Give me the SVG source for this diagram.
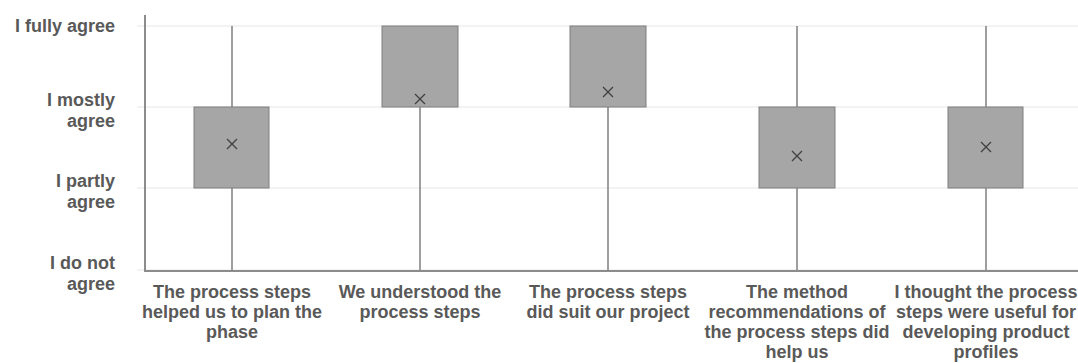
<svg xmlns="http://www.w3.org/2000/svg" width="1078" height="363" viewBox="0 0 1078 363">
  <style>
    .lbl { font-family: "Liberation Sans", Arial, sans-serif; font-weight: bold; font-size: 18px; fill: #595959; }
    .ylbl { text-anchor: end; }
    .xlbl { text-anchor: middle; }
    .grid { stroke: #e6e6e6; stroke-width: 1; }
    .axis { stroke: #8c8c8c; stroke-width: 2; }
    .whisker { stroke: #7f7f7f; stroke-width: 1.5; }
    .box { fill: #a6a6a6; stroke: #7f7f7f; stroke-width: 1; }
    .mean { stroke: #404040; stroke-width: 1.3; fill: none; }
  </style>
  <defs>
    <path id="xmark" class="mean" d="M-5,-5 L5,5 M-5,5 L5,-5"/>
  </defs>
  <rect width="1078" height="363" fill="#ffffff"/>

  <!-- gridlines -->
  <g id="grid">
    <line class="grid" x1="137" y1="26" x2="1078" y2="26"/>
    <line class="grid" x1="137" y1="107" x2="1078" y2="107"/>
    <line class="grid" x1="137" y1="188" x2="1078" y2="188"/>
    <line class="grid" x1="137" y1="270" x2="1078" y2="270"/>
  </g>

  <!-- y axis labels -->
  <g id="y-labels" class="lbl ylbl">
    <text x="115" y="32">I fully agree</text>
    <text x="115" y="106">I mostly</text>
    <text x="115" y="127">agree</text>
    <text x="115" y="187">I partly</text>
    <text x="115" y="208">agree</text>
    <text x="115" y="269">I do not</text>
    <text x="115" y="290">agree</text>
  </g>

  <!-- axes -->
  <g id="connectors">
    <line class="axis" x1="145" y1="15" x2="145" y2="271"/>
    <line class="axis" x1="144" y1="271" x2="1078" y2="271"/>
  </g>

  <!-- box plots -->
  <g id="q1">
    <line class="whisker" x1="232" y1="26" x2="232" y2="270"/>
    <rect class="box" x="194" y="107" width="75" height="81"/>
    <use href="#xmark" x="232" y="144"/>
  </g>
  <g id="q2">
    <line class="whisker" x1="420" y1="107" x2="420" y2="270"/>
    <rect class="box" x="382" y="26" width="76" height="81"/>
    <use href="#xmark" x="420" y="99"/>
  </g>
  <g id="q3">
    <line class="whisker" x1="608" y1="107" x2="608" y2="270"/>
    <rect class="box" x="570" y="26" width="76" height="81"/>
    <use href="#xmark" x="608" y="92"/>
  </g>
  <g id="q4">
    <line class="whisker" x1="797" y1="26" x2="797" y2="270"/>
    <rect class="box" x="759" y="107" width="76" height="81"/>
    <use href="#xmark" x="797" y="156"/>
  </g>
  <g id="q5">
    <line class="whisker" x1="986" y1="26" x2="986" y2="270"/>
    <rect class="box" x="948" y="107" width="75" height="81"/>
    <use href="#xmark" x="986" y="147"/>
  </g>

  <!-- category labels -->
  <g id="x-labels" class="lbl xlbl">
    <text x="232" y="298">The process steps</text>
    <text x="232" y="318">helped us to plan the</text>
    <text x="232" y="338">phase</text>
    <text x="420" y="298">We understood the</text>
    <text x="420" y="318">process steps</text>
    <text x="608" y="298">The process steps</text>
    <text x="608" y="318">did suit our project</text>
    <text x="797" y="298">The method</text>
    <text x="797" y="318">recommendations of</text>
    <text x="797" y="338">the process steps did</text>
    <text x="797" y="358">help us</text>
    <text x="986" y="298">I thought the process</text>
    <text x="986" y="318">steps were useful for</text>
    <text x="986" y="338">developing product</text>
    <text x="986" y="358">profiles</text>
  </g>
</svg>
